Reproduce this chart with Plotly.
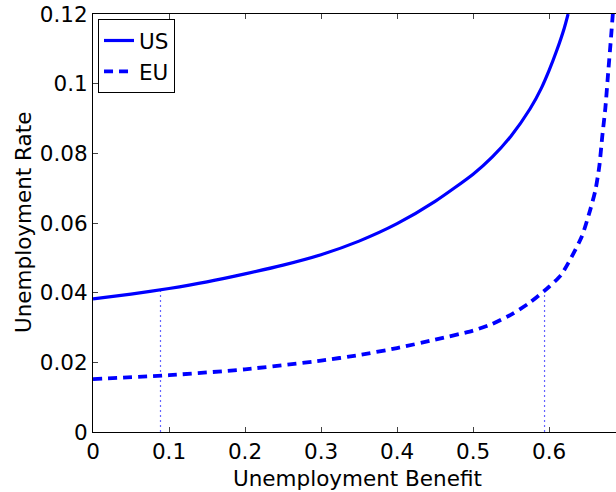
import plotly.graph_objects as go

# Data
us_benefit = [0.0, 0.05, 0.1, 0.15, 0.2, 0.25, 0.3, 0.35, 0.4, 0.45, 0.5, 0.525, 0.55, 0.575, 0.59, 0.6, 0.61, 0.62, 0.625]
us_rate = [0.0382, 0.0396, 0.0412, 0.0431, 0.0454, 0.0479, 0.0509, 0.0548, 0.0598, 0.0662, 0.0740, 0.0789, 0.0850, 0.0928, 0.0988, 0.1038, 0.1095, 0.1160, 0.1200]

eu_benefit = [0.0, 0.1, 0.2, 0.3, 0.35, 0.4, 0.45, 0.5, 0.525, 0.55, 0.575, 0.6, 0.615, 0.625, 0.643, 0.654, 0.661, 0.666, 0.670, 0.674, 0.678, 0.681, 0.684]
eu_rate = [0.0152, 0.0163, 0.0180, 0.0205, 0.0221, 0.0241, 0.0265, 0.0291, 0.0310, 0.0337, 0.0372, 0.0417, 0.0449, 0.0484, 0.0561, 0.0637, 0.0695, 0.0762, 0.0850, 0.0930, 0.1040, 0.1120, 0.1205]

marker_us_b, marker_us_u = 0.0888, 0.0410
marker_eu_b, marker_eu_u = 0.594, 0.0405

x_ticks = [0, 0.1, 0.2, 0.3, 0.4, 0.5, 0.6]
x_tick_labels = ["0", "0.1", "0.2", "0.3", "0.4", "0.5", "0.6"]
y_ticks = [0, 0.02, 0.04, 0.06, 0.08, 0.1, 0.12]
y_tick_labels = ["0", "0.02", "0.04", "0.06", "0.08", "0.1", "0.12"]

FONT = "DejaVu Sans, Liberation Sans, Arial, sans-serif"
BLUE = "#0000ff"
FS = 21.5

fig = go.Figure()
for b, u in [(marker_us_b, marker_us_u), (marker_eu_b, marker_eu_u)]:
    fig.add_trace(go.Scatter(x=[b, b], y=[0, u], mode="lines",
                             line=dict(color="rgb(100,100,255)", width=1.2, dash="2px,3px"),
                             showlegend=False, hoverinfo="skip"))
fig.add_trace(go.Scatter(x=us_benefit, y=us_rate, mode="lines", name="US",
                         line=dict(color=BLUE, width=3.2, shape="spline", smoothing=0.6)))
fig.add_trace(go.Scatter(x=eu_benefit, y=eu_rate, mode="lines", name="EU",
                         line=dict(color=BLUE, width=3.8, dash="9px,6px", shape="spline", smoothing=0.6)))

L, T, B = 93, 14, 60
fig.update_layout(
    width=616, height=492,
    margin=dict(l=L, r=0, t=T, b=B, pad=0),
    paper_bgcolor="white", plot_bgcolor="white",
    font=dict(family=FONT, size=FS, color="black"),
    showlegend=True,
    legend=dict(x=0.0096, y=0.988, xanchor="left", yanchor="top",
                bgcolor="white", bordercolor="black", borderwidth=1,
                font=dict(family=FONT, size=FS), tracegroupgap=0, itemwidth=30),
    xaxis=dict(range=[0, 0.688], tickvals=x_ticks, ticktext=x_tick_labels,
               ticks="inside", ticklen=5, tickcolor="#444", showline=True, linecolor="black",
               linewidth=1, mirror="ticks", showgrid=False, zeroline=False,
               tickfont=dict(family=FONT, size=FS)),
    yaxis=dict(range=[0, 0.12], tickvals=y_ticks, ticktext=y_tick_labels,
               ticks="inside", ticklen=5, tickcolor="#444", showline=True, linecolor="black",
               linewidth=1, mirror=False, showgrid=False, zeroline=False,
               tickfont=dict(family=FONT, size=FS)),
)

pw, ph = 616 - L, 492 - T - B
def px(xp):
    return (xp - L) / pw
def py(yp):
    return (492 - B - yp) / ph

fig.add_annotation(text="Unemployment Benefit", x=px(357), y=py(478), xref="paper", yref="paper",
                   xanchor="center", yanchor="middle",
                   showarrow=False, font=dict(family=FONT, size=FS))
fig.add_annotation(text="Unemployment Rate", x=px(23), y=py(223), xref="paper", yref="paper",
                   xanchor="center", yanchor="middle",
                   showarrow=False, textangle=-90, font=dict(family=FONT, size=FS))

fig.write_html("out.html", config={"displayModeBar": False},
               post_script="document.body.style.margin='0';document.body.style.overflow='hidden';")
